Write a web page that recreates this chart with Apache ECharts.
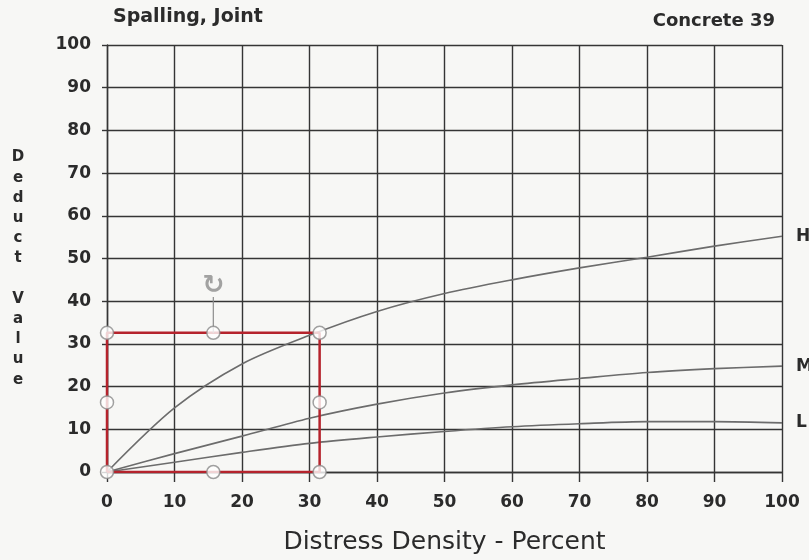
<!DOCTYPE html>
<html>
<head>
<meta charset="utf-8">
<script src="https://cdn.jsdelivr.net/npm/echarts@6/dist/echarts.min.js"></script>
<style>html,body{margin:0;padding:0;background:#f7f7f5;}#c{width:809px;height:560px;}</style>
</head>
<body>
<div id="c"></div>
<script>
// ---- data ----
var xTicks = [0, 10, 20, 30, 40, 50, 60, 70, 80, 90, 100];
var densityH = [0, 10, 20, 30, 40, 50, 60, 70, 80, 90, 100];
var deductH  = [0, 15, 25.3, 32, 37.6, 41.8, 45, 47.8, 50.3, 52.9, 55.2];
var densityM = [0, 10, 20, 30, 40, 50, 60, 70, 80, 90, 100];
var deductM  = [0, 4.3, 8.4, 12.6, 15.9, 18.5, 20.4, 21.9, 23.3, 24.2, 24.8];
var densityL = [0, 10, 20, 30, 40, 50, 60, 70, 80, 90, 100];
var deductL  = [0, 2.3, 4.6, 6.7, 8.2, 9.5, 10.6, 11.3, 11.8, 11.8, 11.5];
// selection box overlay (data units)
var selX = [0, 31.5];
var selY = [0, 32.6];
var rotHandleY = [41, 43.6];

function pairs(xs, ys) { return xs.map(function (x, i) { return [x, ys[i]]; }); }

var FONT = 'DejaVu Sans';
var TXT = '#2b2b2b';
var GRID = '#353535';
var CURVE = '#6c6c6c';

var midX = (selX[0] + selX[1]) / 2, midY = (selY[0] + selY[1]) / 2;
var rectData = [[selX[0], selY[0]], [selX[1], selY[0]], [selX[1], selY[1]], [selX[0], selY[1]], [selX[0], selY[0]]];
var handleData = [
  [selX[0], selY[0]], [midX, selY[0]], [selX[1], selY[0]],
  [selX[0], midY], [selX[1], midY],
  [selX[0], selY[1]], [midX, selY[1]], [selX[1], selY[1]]
];

function curve(name, xs, ys) {
  return {
    name: name, type: 'line', data: pairs(xs, ys), smooth: 0.3, symbol: 'none',
    lineStyle: { color: CURVE, width: 1.6 }, z: 3,
    endLabel: { show: true, formatter: name, distance: 14, fontFamily: FONT, fontWeight: 'bold', fontSize: 17, color: TXT }
  };
}

var chart = echarts.init(document.getElementById('c'), null, { renderer: 'canvas' });
chart.setOption({
  backgroundColor: '#f7f7f5',
  animation: false,
  title: [
    { text: 'Spalling, Joint', left: 108, top: 3, textStyle: { fontFamily: FONT, fontWeight: 'bold', fontSize: 19, color: TXT } },
    { text: 'Concrete 39', right: 29, top: 7, textStyle: { fontFamily: FONT, fontWeight: 'bold', fontSize: 18, color: TXT } }
  ],
  grid: { left: 107, right: 27, top: 45, bottom: 82 },
  xAxis: {
    type: 'value', min: xTicks[0], max: xTicks[xTicks.length - 1], interval: 10,
    name: 'Distress Density - Percent', nameLocation: 'middle', nameGap: 58,
    nameTextStyle: { fontFamily: FONT, fontSize: 25, color: TXT },
    axisLine: { show: true, lineStyle: { color: GRID, width: 1.4 } },
    axisTick: { show: true, length: 10, lineStyle: { color: GRID, width: 1.4 } },
    axisLabel: { margin: 22, fontFamily: FONT, fontWeight: 'bold', fontSize: 17, color: TXT },
    splitLine: { show: true, lineStyle: { color: GRID, width: 1.4 } }
  },
  yAxis: {
    type: 'value', min: 0, max: 100, interval: 10,
    name: ' \nD\ne\nd\nu\nc\nt\n \nV\na\nl\nu\ne', nameLocation: 'middle', nameGap: 89, nameRotate: 0,
    nameTextStyle: { fontFamily: FONT, fontWeight: 'bold', fontSize: 15, lineHeight: 20.2, color: TXT, align: 'center', verticalAlign: 'middle' },
    axisLine: { show: true, lineStyle: { color: GRID, width: 1.4 } },
    axisTick: { show: true, length: 5, lineStyle: { color: GRID, width: 1.4 } },
    axisLabel: { margin: 16, fontFamily: FONT, fontWeight: 'bold', fontSize: 17, color: TXT },
    splitLine: { show: true, lineStyle: { color: GRID, width: 1.4 } }
  },
  series: [
    curve('H', densityH, deductH),
    curve('M', densityM, deductM),
    curve('L', densityL, deductL),
    {
      type: 'line', data: rectData, symbol: 'none', silent: true, z: 5,
      lineStyle: { color: '#b5232c', width: 2.5 }
    },
    {
      type: 'line', data: [[midX, selY[1]], [midX, rotHandleY[0]]], symbol: 'none', silent: true, z: 5,
      lineStyle: { color: '#8c8c8c', width: 1.2 }
    },
    {
      type: 'scatter', data: [[midX, rotHandleY[1]]], symbolSize: 1, silent: true, z: 6,
      itemStyle: { color: 'rgba(0,0,0,0)' },
      label: { show: true, position: 'inside', formatter: '\u21bb', fontFamily: FONT, fontWeight: 'bold', fontSize: 26, color: '#8c8c8c' }
    },
    {
      type: 'scatter', data: handleData, symbol: 'circle', symbolSize: 13, silent: true, z: 7,
      itemStyle: { color: '#ffffff', borderColor: '#8a8a8a', borderWidth: 1.5 }
    }
  ]
});
</script>
</body>
</html>
